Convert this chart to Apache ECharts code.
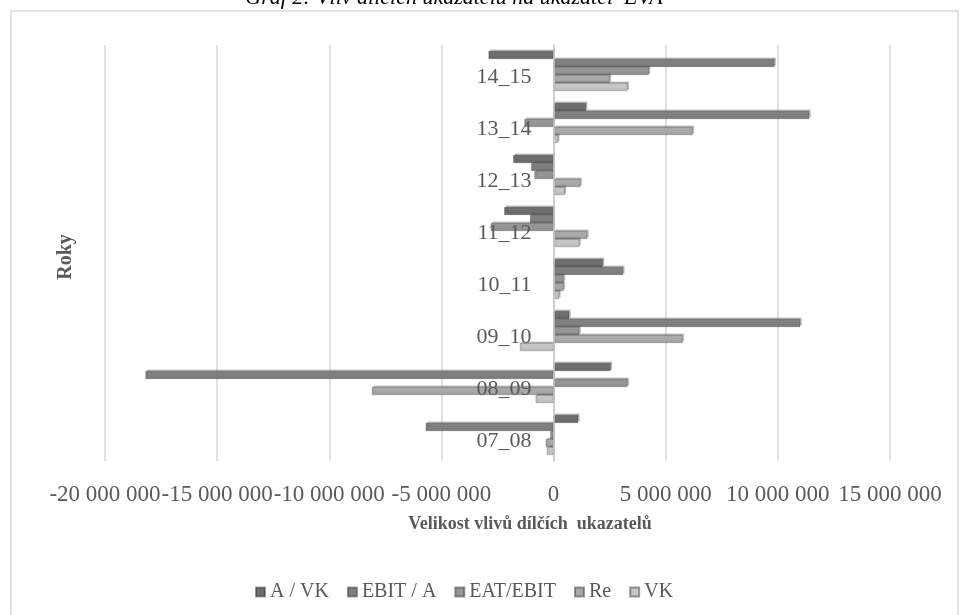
<!DOCTYPE html>
<html>
<head>
<meta charset="utf-8">
<script src="https://cdn.jsdelivr.net/npm/echarts@6/dist/echarts.min.js"></script>
<style>
  html, body { margin: 0; padding: 0; background: #fff; }
  #chart { width: 970px; height: 615px; }
</style>
</head>
<body>
<div id="chart"></div>
<script>
// Periods, oldest first (drawn bottom to top)
const categories = ['07_08', '08_09', '09_10', '10_11', '11_12', '12_13', '13_14', '14_15'];

// Influence of the partial indicators on EVA, per period
const aVk     = [1100000, 2550000, 700000, 2200000, -2200000, -1800000, 1450000, -2900000];
const ebitA   = [-5700000, -18200000, 11000000, 3100000, -1050000, -1000000, 11400000, 9850000];
const eatEbit = [-150000, 3300000, 1150000, 450000, -2800000, -850000, -1300000, 4250000];
const re      = [-350000, -8100000, 5750000, 450000, 1500000, 1200000, 6200000, 2500000];
const vk      = [-300000, -800000, -1500000, 250000, 1150000, 500000, 200000, 3300000];

const seriesNames = ['A / VK', 'EBIT / A', 'EAT/EBIT', 'Re', 'VK'];
const seriesValues = [aVk, ebitA, eatEbit, re, vk];
const seriesColors = ['#6e6e6e', '#808080', '#959595', '#a9a9a9', '#c6c6c6'];

// X axis ticks
const xMin = -20000000, xMax = 15000000, xStep = 5000000;

const serif = "'Liberation Serif', 'Times New Roman', serif";
const textGray = '#595959';

const gridLeft = 105, gridRight = 80;
const plotWidth = 970 - gridLeft - gridRight;
// Horizontal distance from the left plot edge to the zero value
const zeroOffset = plotWidth * (0 - xMin) / (xMax - xMin);

function fmtSpace(v) {
  const neg = v < 0;
  const s = Math.abs(Math.round(v)).toString().replace(/\B(?=(\d{3})+(?!\d))/g, ' ');
  return (neg ? '-' : '') + s;
}

const series = seriesNames.map((name, i) => ({
  name: name,
  type: 'bar',
  data: seriesValues[i],
  barGap: '0%',
  barCategoryGap: '23%',
  itemStyle: {
    color: seriesColors[i],
    borderColor: 'rgba(40,40,40,0.45)',
    borderWidth: 0.6,
    shadowColor: 'rgba(60,60,60,0.35)',
    shadowOffsetX: 1.5,
    shadowOffsetY: -1.5,
    shadowBlur: 0
  }
}));

const chart = echarts.init(document.getElementById('chart'), null, { renderer: 'canvas' });
chart.setOption({
  animation: false,
  backgroundColor: '#ffffff',
  grid: { left: gridLeft, right: gridRight, top: 45, bottom: 154, containLabel: false },
  legend: {
    data: seriesNames,
    left: 250,
    top: 577,
    icon: 'rect',
    itemWidth: 9,
    itemHeight: 9,
    itemGap: 18,
    textStyle: { fontFamily: serif, fontSize: 20, color: textGray }
  },
  xAxis: {
    type: 'value',
    min: xMin,
    max: xMax,
    interval: xStep,
    axisLine: { show: false },
    axisTick: { show: false },
    splitLine: { show: true, lineStyle: { color: '#d9d9d9', width: 1.5 } },
    axisLabel: {
      margin: 22,
      fontFamily: serif,
      fontSize: 23,
      color: textGray,
      formatter: fmtSpace
    }
  },
  yAxis: {
    type: 'category',
    data: categories,
    position: 'left',
    offset: -zeroOffset,
    z: 10,
    axisLine: { show: true, onZero: false, lineStyle: { color: '#c8c8c8', width: 1.5 } },
    axisTick: { show: false },
    splitLine: { show: false },
    axisLabel: {
      margin: 22,
      fontFamily: serif,
      fontSize: 22,
      color: textGray,
      verticalAlign: 'top',
      lineHeight: 12
    }
  },
  graphic: [
    {
      type: 'rect',
      shape: { x: 11, y: 11, width: 947, height: 640 },
      style: { fill: 'none', stroke: '#d9d9d9', lineWidth: 1.5 },
      silent: true
    },
    {
      type: 'text',
      x: 454,
      y: 9,
      style: {
        text: 'Graf 2: Vliv dílčích ukazatelů na ukazatel  EVA',
        fontFamily: serif,
        fontStyle: 'italic',
        fontSize: 22,
        fill: '#000000',
        textAlign: 'center',
        textVerticalAlign: 'bottom'
      }
    },
    {
      type: 'text',
      x: 530,
      y: 524,
      style: {
        text: 'Velikost vlivů dílčích  ukazatelů',
        fontFamily: serif,
        fontWeight: 'bold',
        fontSize: 18,
        fill: textGray,
        textAlign: 'center',
        textVerticalAlign: 'middle'
      }
    },
    {
      type: 'text',
      x: 66,
      y: 257,
      rotation: Math.PI / 2,
      style: {
        text: 'Roky',
        fontFamily: serif,
        fontWeight: 'bold',
        fontSize: 20,
        fill: textGray,
        textAlign: 'center',
        textVerticalAlign: 'middle'
      }
    }
  ],
  series: series
});
</script>
</body>
</html>
